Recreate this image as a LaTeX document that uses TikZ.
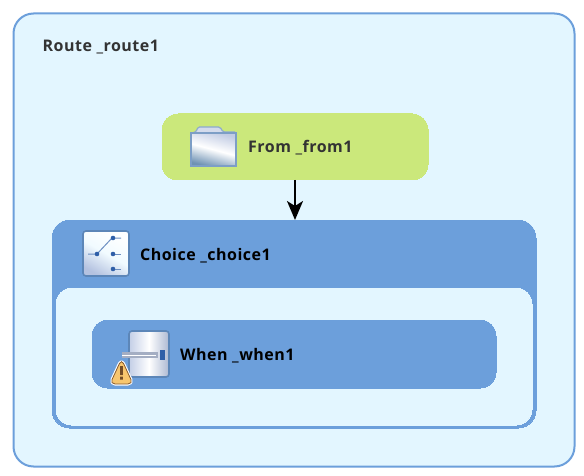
\documentclass[tikz,border=0pt]{standalone}
\usepackage{fontspec}
\setmainfont[LetterSpace=3]{Open Sans}
\usetikzlibrary{arrows.meta,calc}
\definecolor{routefill}{HTML}{E3F6FF}
\definecolor{blueline}{HTML}{6C9FDB}
\definecolor{greenfill}{HTML}{CBE87B}
\definecolor{txtdark}{HTML}{333333}
\definecolor{iconedge}{HTML}{5C86B8}
\definecolor{icondark}{HTML}{2F5FA8}
\definecolor{folderlav}{HTML}{C2CCE4}
\definecolor{folderlow}{HTML}{6F92B4}
\definecolor{iconlow}{HTML}{B4C2E0}
\definecolor{badge}{HTML}{F8C66E}
\tikzset{
  box/.style={draw=#1,fill=#1,line width=0pt,inner sep=0pt,outer sep=0pt},
  routebox/.style={draw=blueline,fill=routefill,line width=2pt,rounded corners=20pt,minimum width=561pt,minimum height=453pt,inner sep=0pt,outer sep=0pt},
  frombox/.style={box=greenfill,rounded corners=16pt,minimum width=266pt,minimum height=66pt},
  choicebox/.style={box=blueline,rounded corners=18pt,minimum width=484pt,minimum height=208pt},
  innerbox/.style={box=routefill,rounded corners=16pt,minimum width=476pt,minimum height=137pt},
  whenbox/.style={box=blueline,rounded corners=16pt,minimum width=404pt,minimum height=68pt},
  lbl/.style={anchor=west,inner sep=0pt,font=\fontsize{16pt}{18pt}\selectfont\bfseries},
  flow/.style={draw=black,line width=2pt,-{Stealth[length=19pt,width=16pt,inset=5pt]}},
  iconbox/.style={draw=iconedge,line width=1.6pt,rounded corners=3pt},
  wire/.style={draw=icondark!70,line width=1pt},
  dot/.style={fill=icondark,draw=none}
}
\begin{document}
\begin{tikzpicture}[x=1pt,y=-1pt]
\useasboundingbox (0,0) rectangle (584,476);
\fill[white] (0,0) rectangle (584,476);
\node[routebox] (route) at (294,240) {};
\node[lbl,text=txtdark] (routelbl) at (42.5,47.5) {Route \_route1};
\node[frombox] (from) at (295,147) {};
\node[lbl,text=txtdark] (fromlbl) at (248,147.5) {From \_from1};
\node[choicebox] (choice) at (294,324) {};
\node[innerbox] (inner) at (294,356.5) {};
\node[lbl,text=black] (choicelbl) at (140,255.5) {Choice \_choice1};
\node[whenbox] (when) at (294,354) {};
\node[lbl,text=black] (whenlbl) at (180,355.5) {When \_when1};
\draw[flow] (from.south) -- (from.south |- choice.north);
% folder icon
\path[draw=iconedge!70,line width=1.2pt,fill=folderlav!70!white,rounded corners=1.5pt]
  (191,133) -- (196,132) -- (198,127) -- (220,127) -- (223,132) -- (236,132) -- (236,140) -- (191,140) -- cycle;
\path[draw=iconedge!80,line width=1.2pt,shading=axis,top color=folderlav,bottom color=folderlow,middle color=white,shading angle=-15]
  (191,133) rectangle (236,166);
% choice icon
\path[iconbox,shading=axis,top color=white,bottom color=iconlow,middle color=routefill!50!white,shading angle=-30] (83,231) rectangle (129,276);
\draw[wire] (88,254) -- (97,254) -- (112,238) -- (121,238);
\draw[wire] (111,254) -- (121,254);
\draw[wire] (112,269) -- (121,269);
\fill[dot] (97,254) circle (2.3) (113,238) circle (2.3) (113,254) circle (2.3) (113,269) circle (2.3);
% when icon
\path[iconbox,shading=axis,left color=iconlow!80!white,right color=iconlow!85!gray,middle color=white] (129,331) rectangle (169,377);
\fill[gray!30!iconlow] (122,352) rectangle (158,358);
\draw[white,line width=1pt] (122,355) -- (156,355);
\fill[icondark] (160,350) rectangle (165,360);
% warning badge
\path[draw=white,line width=3pt,fill=badge,line join=round,rounded corners=5pt] (121.5,359) -- (133,384) -- (110,384) -- cycle;
\path[draw=brown!70!black,line width=0.8pt,fill=badge,rounded corners=5pt] (121.5,359) -- (133,384) -- (110,384) -- cycle;
\fill[brown!60!black] (120.2,366) rectangle (122.8,375) (120.2,376.5) rectangle (122.8,379.5);
\end{tikzpicture}
\end{document}
